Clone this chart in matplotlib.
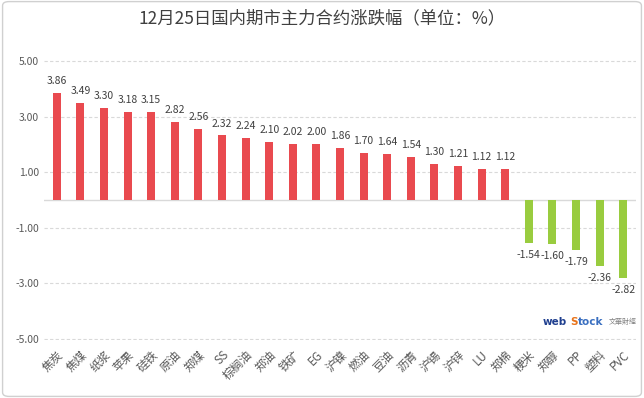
import matplotlib
matplotlib.use("Agg")
import matplotlib.pyplot as plt
from matplotlib.patches import FancyBboxPatch

plt.rcParams['font.family'] = ['Noto Sans CJK SC', 'DejaVu Sans']

TITLE = "12月25日国内期市主力合约涨跌幅（单位：%）"
names = ["焦炭", "焦煤", "纸浆", "苹果", "硅铁", "原油", "郑煤", "SS", "棕榈油", "郑油",
         "铁矿", "EG", "沪镍", "燃油", "豆油", "沥青", "沪锡", "沪锌", "LU", "郑棉",
         "粳米", "郑醇", "PP", "塑料", "PVC"]
changes = [3.86, 3.49, 3.30, 3.18, 3.15, 2.82, 2.56, 2.32, 2.24, 2.10,
           2.02, 2.00, 1.86, 1.70, 1.64, 1.54, 1.30, 1.21, 1.12, 1.12,
           -1.54, -1.60, -1.79, -2.36, -2.82]
yticks = [5, 3, 1, -1, -3, -5]

RED = "#E94A4F"
GREEN = "#99CC3F"
TXT = "#595959"

fig = plt.figure(figsize=(6.44, 3.98), dpi=100)
fig.patches.append(FancyBboxPatch((0.004, 0.004), 0.992, 0.992, boxstyle="round,pad=0,rounding_size=0.01",
                                  transform=fig.transFigure, fill=False, ec="#D0D0D0", lw=1))
ax = fig.add_axes([0.068, 0.146, 0.92, 0.703])

x = list(range(len(names)))
colors = [RED if v >= 0 else GREEN for v in changes]
ax.bar(x, changes, width=0.34, color=colors, zorder=3)

for xi, v in zip(x, changes):
    if v >= 0:
        ax.text(xi, v + 0.25, "%.2f" % v, ha="center", va="bottom", fontsize=7.5, color="#404040")
    else:
        ax.text(xi, v - 0.25, "%.2f" % v, ha="center", va="top", fontsize=7.5, color="#404040")

ax.set_ylim(-5.03, 5.03)
ax.set_xlim(-0.55, len(names) - 0.45)
ax.set_yticks(yticks)
ax.set_yticklabels(["%.2f" % t for t in yticks], fontsize=7.5, color=TXT)
ax.yaxis.grid(True, color="#D9D9D9", ls=(0, (3, 2)), lw=0.8, zorder=0)
ax.axhline(0, color="#D9D9D9", lw=1, zorder=2)
ax.set_xticks(x)
ax.set_xticklabels(names, rotation=45, ha="right", rotation_mode="anchor", fontsize=8.5, color=TXT)
ax.tick_params(axis="both", length=0)
ax.tick_params(axis="x", pad=6)
for s in ax.spines.values():
    s.set_visible(False)

fig.text(0.5, 0.953, TITLE, ha="center", va="center", fontsize=12.5, color="#404040")

# watermark
fig.text(0.843, 0.19, "web", fontsize=7.5, color="#1F3F8F", fontweight="bold", family="DejaVu Sans", ha="left", va="center")
fig.text(0.886, 0.19, "S", fontsize=7.5, color="#E8731A", fontweight="bold", family="DejaVu Sans", ha="left", va="center")
fig.text(0.898, 0.19, "tock", fontsize=7.5, color="#3A6FC0", fontweight="bold", family="DejaVu Sans", ha="left", va="center")
fig.text(0.945, 0.19, "文華財經", fontsize=5, color="#808080", ha="left", va="center")

fig.savefig("out.png", dpi=100)
